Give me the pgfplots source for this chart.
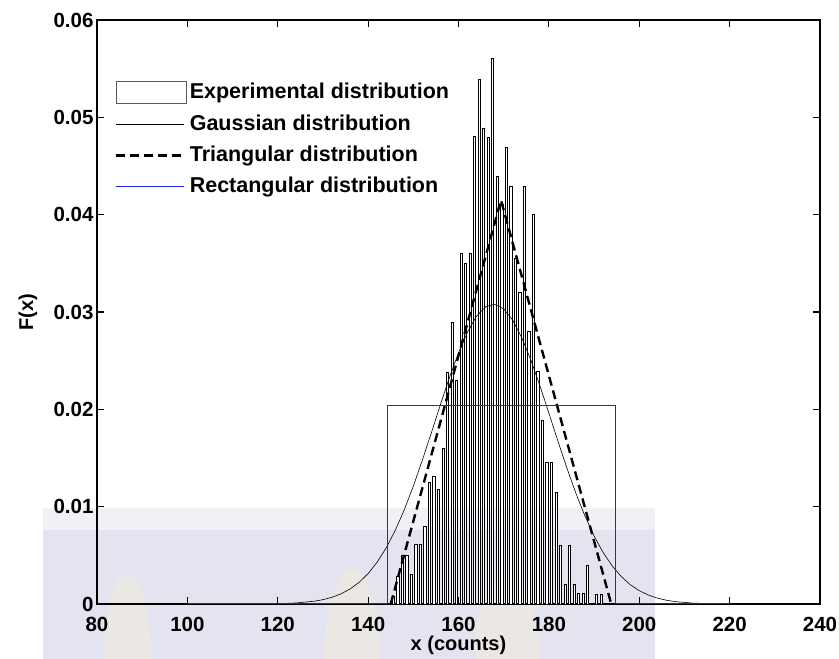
\documentclass[border=0pt]{standalone}
\usepackage{fontspec}
\setmainfont{Liberation Sans}
\usepackage{pgfplots}
\usepackage{pgfplotstable}
\pgfplotsset{compat=1.18}

% Histogram of the measured counts (bin centre, relative frequency)
\pgfplotstableread{
x y
145.6 0.0008
146.6 0.0028
147.6 0.0050
148.6 0.0050
149.6 0.0030
150.6 0.0061
151.6 0.0061
152.6 0.0080
153.6 0.0125
154.6 0.0131
155.6 0.0118
156.6 0.0160
157.6 0.0238
158.6 0.0289
159.6 0.0230
160.6 0.0360
161.6 0.0350
162.6 0.0360
163.6 0.0480
164.6 0.0539
165.6 0.0489
166.6 0.0479
167.6 0.0560
168.6 0.0439
169.6 0.0410
170.6 0.0469
171.6 0.0429
172.6 0.0355
173.6 0.0320
174.6 0.0429
175.6 0.0280
176.6 0.0400
177.6 0.0239
178.6 0.0189
179.6 0.0145
180.6 0.0145
181.6 0.0115
182.6 0.0060
183.6 0.0020
184.6 0.0060
185.6 0.0020
186.6 0.0011
187.6 0.0011
188.6 0.0040
190.6 0.0010
191.6 0.0010
}\histdata

% Fitted normal density
\pgfplotstableread{
x y
100 0
112 0.000003
116 0.000011
120 0.000035
124 0.000104
128 0.00028
130 0.000444
132 0.000689
134 0.001042
136 0.001539
138 0.00222
140 0.003126
142 0.0043
144 0.00577
146 0.00756
148 0.00968
150 0.0121
152 0.01477
154 0.0176
156 0.02048
158 0.02327
160 0.02581
162 0.02796
164 0.02957
166 0.03054
168 0.03079
170 0.03032
172 0.02915
174 0.02736
176 0.02508
178 0.02245
180 0.01962
182 0.01674
184 0.01395
186 0.01135
188 0.00902
190 0.00699
192 0.0053
194 0.00392
196 0.00283
198 0.00199
200 0.00137
202 0.000923
204 0.000606
206 0.000388
208 0.000243
212 0.000089
216 0.000029
220 0.000007
}\gaussdata

% Uniform density: flat between the limits, zero elsewhere
\pgfplotstableread{
x y
100 0
144.3 0
144.3 0.0204
194.8 0.0204
194.8 0
220 0
}\rectdata

\definecolor{wmark}{RGB}{228,228,240}
\definecolor{wleaf}{RGB}{238,234,222}
\definecolor{rectblue}{RGB}{30,30,255}

\pgfplotsset{
  lineleg/.style={legend image code/.code={\draw[##1] (0pt,0pt) -- (68pt,0pt);}},
  boxleg/.style={legend image code/.code={\draw[black!65, fill=white, line width=0.8pt] (0pt,-11pt) rectangle (70pt,11pt);}},
}

\begin{document}
\begin{tikzpicture}[x=1pt,y=1pt]
\useasboundingbox (-97,-55) rectangle (742,604);
% pale logo band behind the lower part of the figure
\fill[wmark] (-54,-55) rectangle (558,96);
\fill[white, opacity=0.45] (-54,74) rectangle (558,96);
\fill[wleaf, opacity=0.7] (30,-55) ellipse [x radius=24, y radius=85];
\fill[wleaf, opacity=0.7] (255,-55) ellipse [x radius=28, y radius=90];
\fill[wleaf, opacity=0.7] (410,-45) ellipse [x radius=32, y radius=70];
\begin{axis}[
  at={(0,0)}, anchor=south west,
  scale only axis, width=723pt, height=584pt,
  xmin=80, xmax=240, ymin=0, ymax=0.06,
  xtick={80,100,120,140,160,180,200,220,240},
  ytick={0,0.01,0.02,0.03,0.04,0.05,0.06},
  yticklabels={0,0.01,0.02,0.03,0.04,0.05,0.06},
  scaled y ticks=false,
  tick align=inside,
  major tick length=7pt,
  axis line style={line width=1.6pt},
  every tick/.style={black, line width=1.2pt},
  ticklabel style={font=\bfseries\fontsize{20.5}{24}\selectfont},
  xticklabel style={yshift=-10pt},
  /pgf/number format/assume math mode=true,
  xlabel={x (counts)}, ylabel={F(x)},
  label style={font=\bfseries\fontsize{20}{24}\selectfont},
  xlabel style={at={(axis description cs:0.5,-0.0702)}, anchor=center},
  ylabel style={at={(axis description cs:-0.0954,0.5)}, anchor=center},
  legend style={at={(rel axis cs:0.0249,0.8955)}, anchor=north west,
    draw=none, fill=none, inner sep=0pt, column sep=3pt, row sep=10pt,
    font=\bfseries\fontsize{21.5}{25}\selectfont,
    nodes={inner sep=0pt, text height=16pt, text depth=5pt}},
  legend cell align=left,
  clip=true,
]
\addplot[ybar, bar width=0.5, bar shift=0pt, draw=black, fill=white, line width=0.95pt, boxleg]
  table[x=x, y=y] {\histdata};
\addlegendentry{Experimental distribution}

\addplot[sharp plot, black, line width=0.6pt, lineleg]
  table[x=x, y=y] {\gaussdata};
\addlegendentry{Gaussian distribution}

\addplot[sharp plot, black, line width=2.4pt, dash pattern=on 9pt off 5pt, lineleg]
  coordinates {(145,0) (169.4,0.0415) (193.8,0)};
\addlegendentry{Triangular distribution}

\addplot[sharp plot, rectblue, line width=1.2pt, lineleg]
  table[x=x, y=y] {\rectdata};
\addlegendentry{Rectangular distribution}
\end{axis}
\end{tikzpicture}
\end{document}
